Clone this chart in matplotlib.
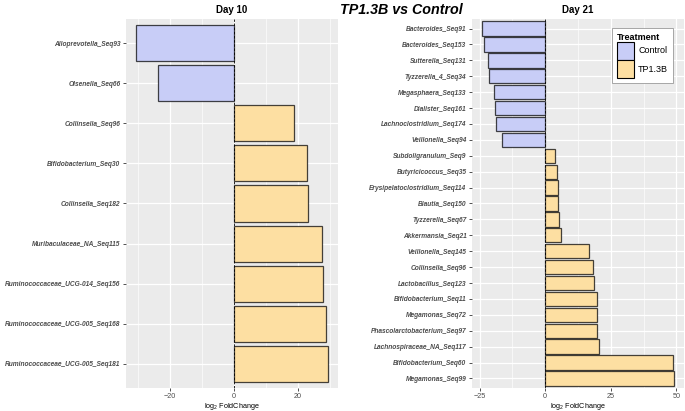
import matplotlib
matplotlib.use("Agg")
import matplotlib.pyplot as plt
from matplotlib.patches import Patch

plt.rcParams['font.family'] = ['Liberation Sans', 'DejaVu Sans']

# Day 10 differential taxa (top to bottom)
day10_taxa = ["Alloprevotella_Seq93", "Olsenella_Seq66", "Collinsella_Seq96",
              "Bifidobacterium_Seq30", "Collinsella_Seq182", "Muribaculaceae_NA_Seq115",
              "Ruminococcaceae_UCG-014_Seq156", "Ruminococcaceae_UCG-005_Seq168",
              "Ruminococcaceae_UCG-005_Seq181"]
day10_lfc = [-30.6, -23.5, 18.7, 22.8, 23.1, 27.6, 27.9, 28.9, 29.5]

# Day 21 differential taxa (top to bottom)
day21_taxa = ["Bacteroides_Seq91", "Bacteroides_Seq153", "Sutterella_Seq131",
              "Tyzzerella_4_Seq34", "Megasphaera_Seq133", "Dialister_Seq161",
              "Lachnoclostridium_Seq174", "Veillonella_Seq94", "Subdoligranulum_Seq9",
              "Butyricicoccus_Seq35", "Erysipelatoclostridium_Seq114", "Blautia_Seq150",
              "Tyzzerella_Seq67", "Akkermansia_Seq21", "Veillonella_Seq145",
              "Collinsella_Seq96", "Lactobacillus_Seq123", "Bifidobacterium_Seq11",
              "Megamonas_Seq72", "Phascolarctobacterium_Seq97", "Lachnospiraceae_NA_Seq117",
              "Bifidobacterium_Seq60", "Megamonas_Seq99"]
day21_lfc = [-24.2, -23.4, -21.8, -21.4, -19.6, -19.1, -18.7, -16.3, 3.7, 4.4, 4.9,
             4.9, 5.1, 6.0, 16.6, 18.2, 18.6, 19.7, 19.7, 19.8, 20.5, 48.7, 49.2]

day10_ticks = [-20, 0, 20]
day21_ticks = [-25, 0, 25, 50]

treatments = ["Control", "TP1.3B"]
colours = {"Control": "#C8CDF7", "TP1.3B": "#FDDFA2"}

W, H = 685, 411


def draw_panel(ax, taxa, lfc, ticks, minor, title):
    # ggplot-like grey panel
    ax.set_facecolor("#EBEBEB")
    cols = [colours["Control"] if v < 0 else colours["TP1.3B"] for v in lfc]
    ax.barh(taxa, lfc, height=0.9, color=cols, edgecolor=(0, 0, 0, 0.72),
            linewidth=0.9, zorder=3)
    ax.axvline(0, color="black", ls=(0, (3, 2)), lw=0.6, zorder=4)
    lo, hi = min(min(lfc), 0), max(max(lfc), 0)
    pad = (hi - lo) * 0.05
    ax.set_xlim(lo - pad, hi + pad)
    ax.set_ylim(len(taxa) - 0.4, -0.6)
    ax.set_xticks(ticks)
    ax.set_xticks(minor, minor=True)
    ax.grid(True, which="major", color="white", lw=0.9, zorder=0)
    ax.grid(True, which="minor", axis="x", color="white", lw=0.45, zorder=0)
    ax.set_axisbelow(True)
    for s in ax.spines.values():
        s.set_visible(False)
    ax.tick_params(axis="both", which="major", length=2.5, width=0.6,
                   color="#333333", labelcolor="#4D4D4D", pad=1.5)
    ax.tick_params(axis="x", labelsize=5.2, pad=1)
    ax.tick_params(axis="y", labelsize=4.8)
    ax.tick_params(which="minor", length=0)
    for lab in ax.get_yticklabels():
        lab.set_fontweight("bold")
        lab.set_fontstyle("italic")
    ax.set_xlabel(r"$\mathregular{log_2}$ FoldChange", fontsize=5.2,
                  color="black", labelpad=1)
    ax.set_title(title, fontsize=7, fontweight="bold", pad=4)


fig = plt.figure(figsize=(W / 100, H / 100), dpi=100)
ax1 = fig.add_axes([126 / W, 23 / H, 212 / W, 369 / H])
ax2 = fig.add_axes([472 / W, 23 / H, 212 / W, 369 / H])

draw_panel(ax1, day10_taxa, day10_lfc, day10_ticks, [-30, -10, 10, 30], "Day 10")
draw_panel(ax2, day21_taxa, day21_lfc, day21_ticks, [-12.5, 12.5, 37.5], "Day 21")

fig.text(401 / W, 1 - 10 / H, "TP1.3B vs Control", ha="center", va="center",
         fontsize=10.3, fontweight="bold", fontstyle="italic")

handles = [Patch(facecolor=colours[t], edgecolor="black", lw=0.8, label=t)
           for t in treatments]
leg = fig.legend(handles=handles, title="Treatment", loc="upper left",
                 bbox_to_anchor=(612 / W, 1 - 28 / H), fontsize=6.5,
                 title_fontproperties={"weight": "bold", "size": 6.5},
                 handlelength=1.9, handleheight=2.75, labelspacing=0.0,
                 handletextpad=0.5, borderpad=0.5, borderaxespad=0,
                 fancybox=False, framealpha=1, edgecolor="#999999")
leg.get_frame().set_linewidth(0.6)
leg._legend_box.align = "left"

fig.savefig("out.png", dpi=100)
